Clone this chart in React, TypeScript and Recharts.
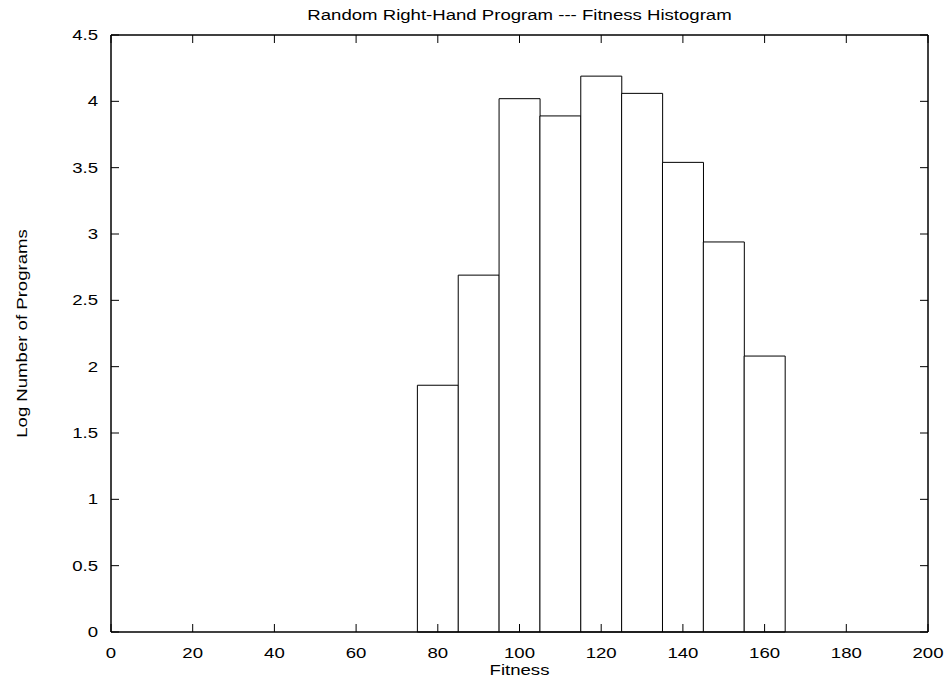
import { ComposedChart, Bar, Line, XAxis, YAxis } from 'recharts'

// histogram bins (bin centres, width 10) and log10 counts
const fitnessBins = [80, 90, 100, 110, 120, 130, 140, 150, 160]
const logCounts = [1.86, 2.69, 4.02, 3.89, 4.19, 4.06, 3.54, 2.94, 2.08]

const xTicks = [0, 20, 40, 60, 80, 100, 120, 140, 160, 180, 200]
const yTicks = [0, 0.5, 1, 1.5, 2, 2.5, 3, 3.5, 4, 4.5]

const title = 'Random Right-Hand Program --- Fitness Histogram'
const xLabel = 'Fitness'
const yLabel = 'Log Number of Programs'

const data = fitnessBins.map((fitness, i) => ({ fitness, count: logCounts[i] }))

const W = 948
const H = 681
const M = { top: 35, right: 20, bottom: 49, left: 111 }
const plotW = W - M.left - M.right
const plotH = H - M.top - M.bottom

const FONT = "'Liberation Sans', Arial, Helvetica, sans-serif"

function StretchText({ x, y, anchor = 'middle', rotate = 0, children }: any) {
  return (
    <g transform={`translate(${x},${y}) rotate(${rotate}) scale(1.24,1)`}>
      <text x={0} y={0} textAnchor={anchor} fontSize={15} fontFamily={FONT} fill="#000">
        {children}
      </text>
    </g>
  )
}

const XTick = (props: any) => (
  <StretchText x={props.x} y={M.top + plotH + 26} anchor="middle">
    {props.payload.value}
  </StretchText>
)

const YTick = (props: any) => (
  <StretchText x={M.left - 13} y={props.y + 5} anchor="end">
    {props.payload.value}
  </StretchText>
)

const NoTick = () => <g />

const axisLine = { stroke: '#000', strokeWidth: 1.5 }
const tickLine = { stroke: '#000', strokeWidth: 1 }

export default function App() {
  const midX = M.left + plotW / 2
  const midY = M.top + plotH / 2
  return (
    <div style={{ position: 'absolute', left: 0, top: 0, background: '#fff' }}>
      <ComposedChart
        width={W}
        height={H}
        data={data}
        margin={{ top: M.top - 1, right: M.right - 1, bottom: 0, left: 0 }}
        barCategoryGap={0}
        barGap={0}
      >
        <XAxis
          xAxisId="bottom"
          dataKey="fitness"
          type="number"
          domain={[0, 200]}
          ticks={xTicks}
          interval={0}
          height={M.bottom}
          axisLine={axisLine}
          tickLine={tickLine}
          tickSize={-8}
          tick={XTick}
          label={{ content: () => <StretchText x={midX} y={675}>{xLabel}</StretchText> }}
        />
        <XAxis
          xAxisId="top"
          orientation="top"
          dataKey="fitness"
          type="number"
          domain={[0, 200]}
          allowDataOverflow
          ticks={xTicks}
          interval={0}
          height={1}
          axisLine={axisLine}
          tickLine={tickLine}
          tickSize={-8}
          tick={NoTick}
          label={{ content: () => <StretchText x={midX} y={20}>{title}</StretchText> }}
        />
        <YAxis
          yAxisId="left"
          type="number"
          domain={[0, 4.5]}
          ticks={yTicks}
          interval={0}
          width={M.left}
          axisLine={axisLine}
          tickLine={tickLine}
          tickSize={-8}
          tick={YTick}
          label={{
            content: () => (
              <StretchText x={27} y={midY} rotate={-90}>
                {yLabel}
              </StretchText>
            ),
          }}
        />
        <YAxis
          yAxisId="right"
          orientation="right"
          type="number"
          domain={[0, 4.5]}
          allowDataOverflow
          ticks={yTicks}
          interval={0}
          width={1}
          axisLine={axisLine}
          tickLine={tickLine}
          tickSize={-8}
          tick={NoTick}
        />
        <Bar
          xAxisId="bottom"
          yAxisId="left"
          dataKey="count"
          fill="#fff"
          stroke="#000"
          strokeWidth={1}
          isAnimationActive={false}
        />
        {/* invisible series so the mirrored top/right axes get drawn */}
        <Line
          xAxisId="top"
          yAxisId="right"
          dataKey="count"
          stroke="none"
          dot={false}
          activeDot={false}
          legendType="none"
          isAnimationActive={false}
        />
      </ComposedChart>
    </div>
  )
}
